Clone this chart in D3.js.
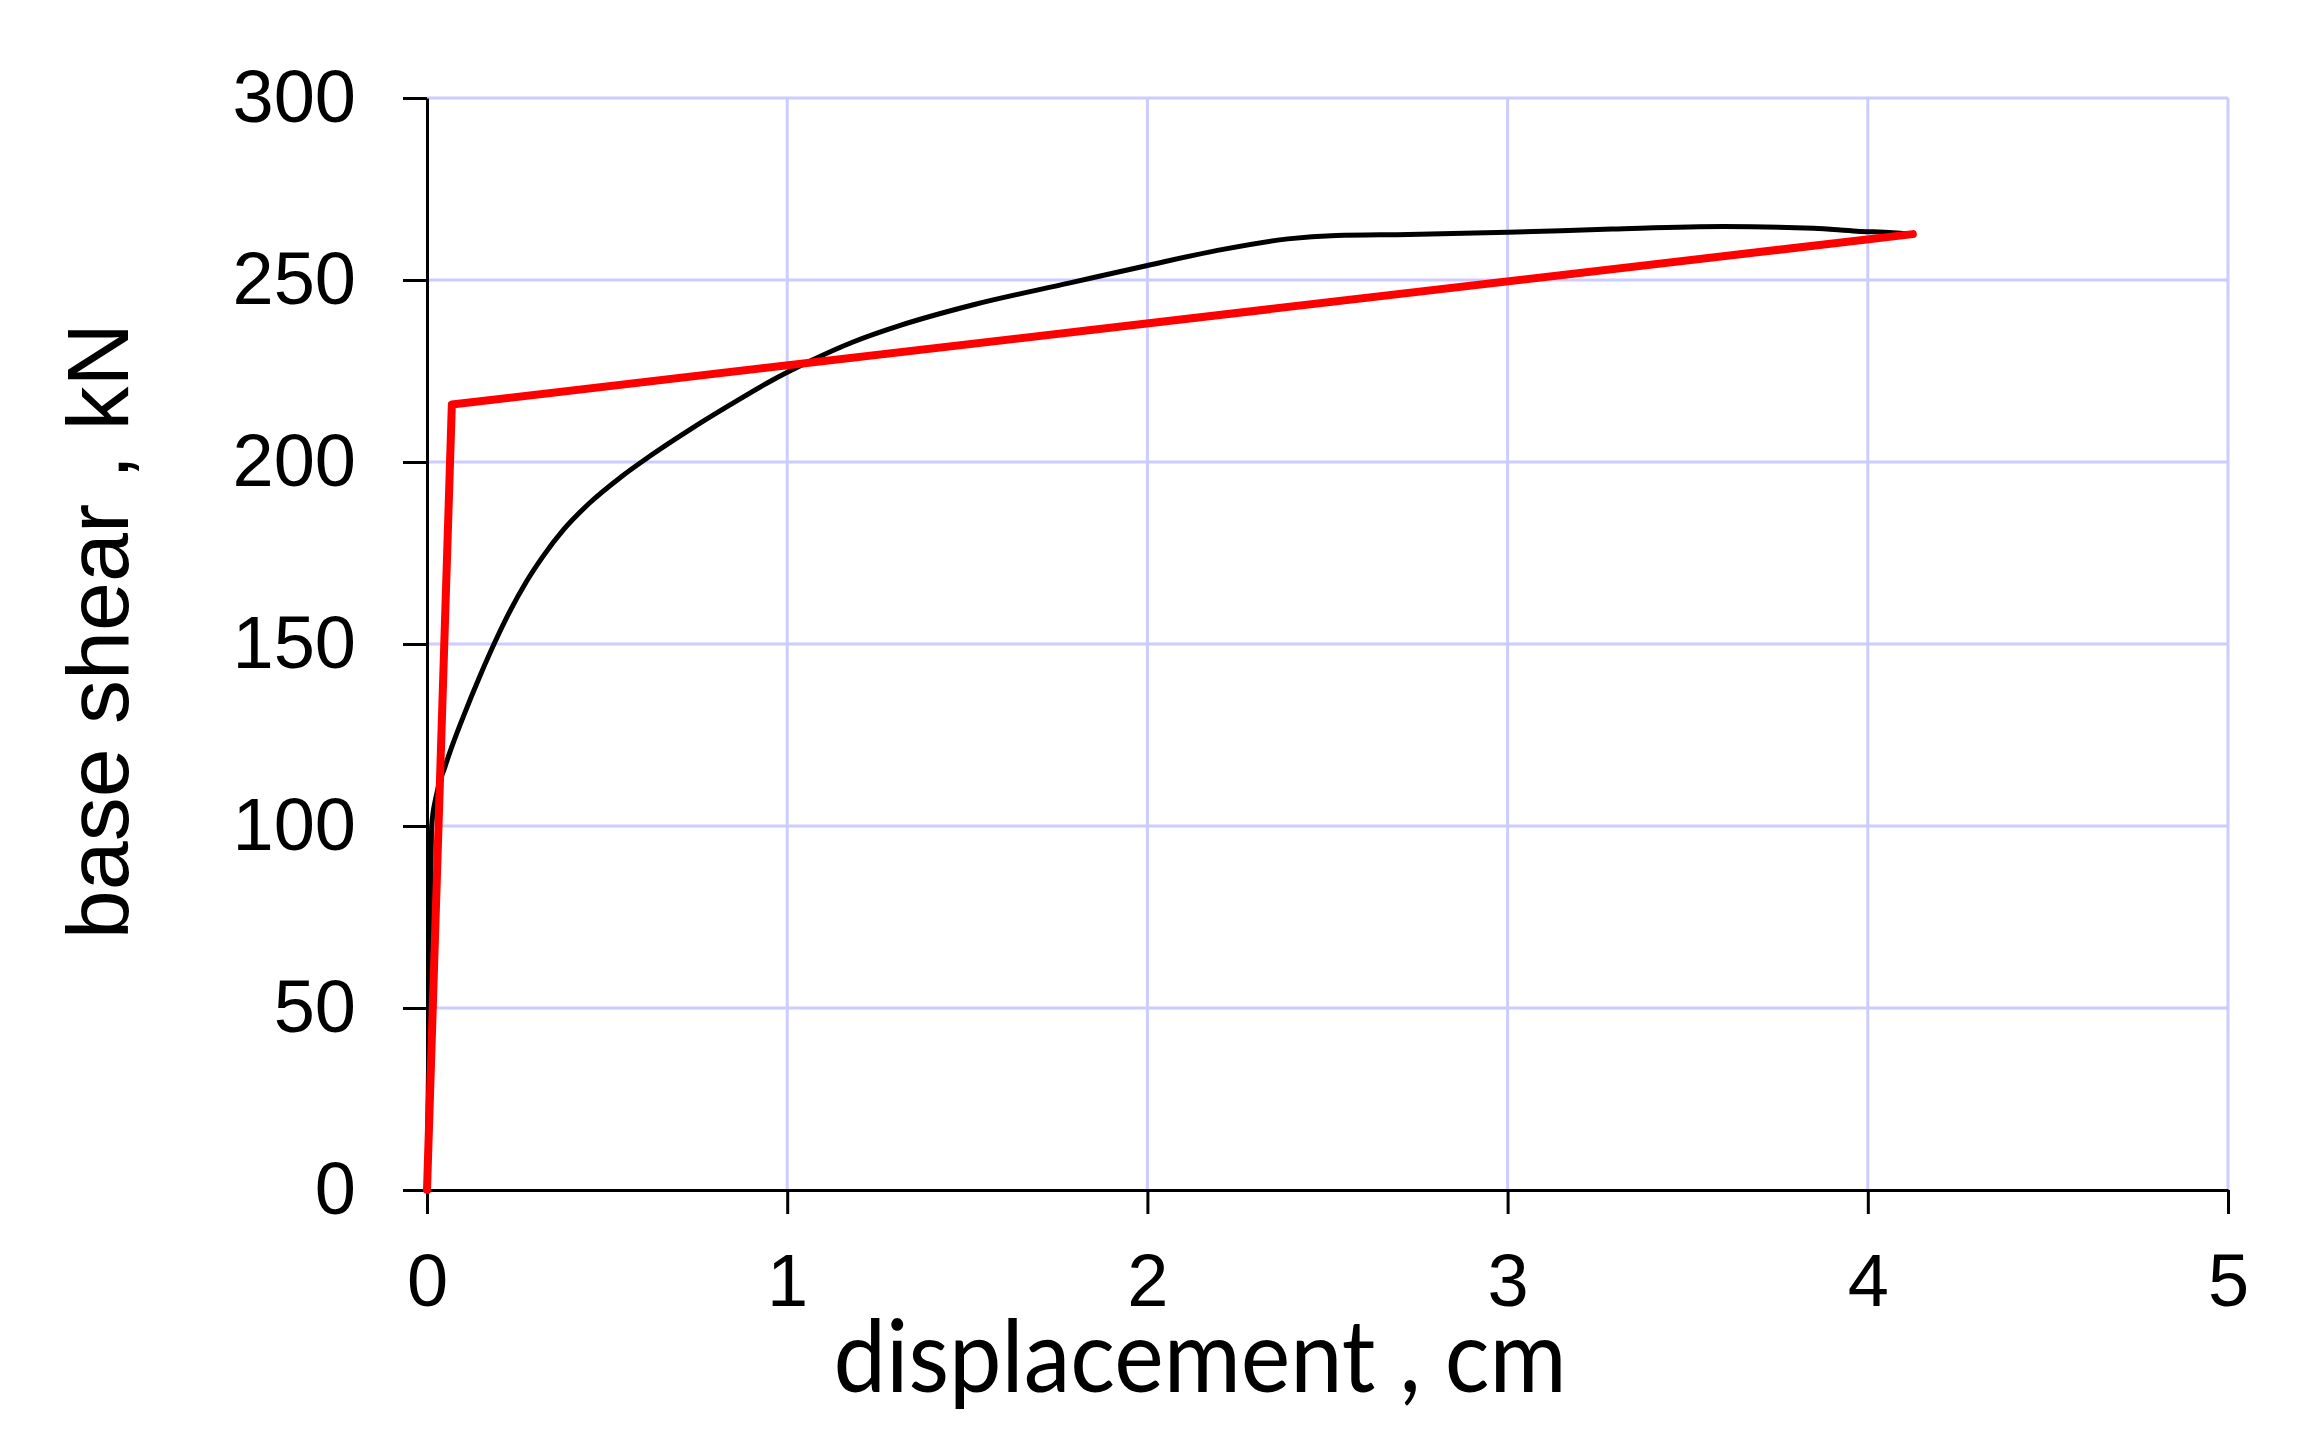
<!DOCTYPE html>
<html>
<head>
<meta charset="utf-8">
<script src="https://cdn.jsdelivr.net/npm/d3@7"></script>
<style>
    html, body { margin: 0; padding: 0; background: #fff; }
    svg { display: block; }
</style>
</head>
<body>
<svg id="chart"></svg>
<script>
// pushover curve
var pushX = [0, 0.005, 0.01, 0.013, 0.025, 0.05, 0.069, 0.105, 0.147, 0.189, 0.226, 0.277, 0.323, 0.379, 0.452, 0.536, 0.62, 0.73, 0.84, 0.961, 1.061, 1.181, 1.316, 1.517, 1.785, 2.0, 2.188, 2.39, 2.524, 2.725, 3.0, 3.29, 3.6, 3.85, 3.97, 4.07, 4.12];
var pushY = [0, 40, 80, 100, 108, 116.3, 121.8, 131.1, 141.2, 150.6, 158.2, 167.3, 174.2, 181.4, 188.8, 195.7, 201.7, 208.9, 215.6, 222.6, 227.6, 232.9, 237.6, 243.2, 249.2, 254.0, 258, 261.3, 262.2, 262.5, 263.1, 264, 264.7, 264.2, 263.4, 263.0, 262.6];

// bilinear idealisation
var biX = [0, 0.069, 4.125];
var biY = [0, 215.8, 262.6];

var xTicks = [0, 1, 2, 3, 4, 5];
var yTicks = [0, 50, 100, 150, 200, 250, 300];

var W = 2307, H = 1437;
var plot = {left: 427, right: 2228, top: 98, bottom: 1190};

var svg = d3.select("#chart")
    .attr("width", W)
    .attr("height", H);

var x = d3.scaleLinear().domain([0, 5]).range([plot.left, plot.right]);
var y = d3.scaleLinear().domain([0, 300]).range([plot.bottom, plot.top]);

// grid
svg.append("g")
    .selectAll("line")
    .data(xTicks.slice(1))
    .enter().append("line")
    .attr("x1", function(d) { return x(d); })
    .attr("x2", function(d) { return x(d); })
    .attr("y1", y(0))
    .attr("y2", y(300))
    .attr("stroke", "#ccccff")
    .attr("stroke-width", 3);

svg.append("g")
    .selectAll("line")
    .data(yTicks.slice(1))
    .enter().append("line")
    .attr("x1", x(0))
    .attr("x2", x(5))
    .attr("y1", function(d) { return y(d); })
    .attr("y2", function(d) { return y(d); })
    .attr("stroke", "#ccccff")
    .attr("stroke-width", 3);

// axes
var xAxis = svg.append("g")
    .attr("transform", "translate(0," + plot.bottom + ")")
    .call(d3.axisBottom(x).tickValues(xTicks).tickFormat(d3.format("d"))
        .tickSizeInner(24).tickSizeOuter(0).tickPadding(39));

var yAxis = svg.append("g")
    .attr("transform", "translate(" + plot.left + ",0)")
    .call(d3.axisLeft(y).tickValues(yTicks).tickFormat(d3.format("d"))
        .tickSizeInner(24).tickSizeOuter(0).tickPadding(47));

[xAxis, yAxis].forEach(function(g) {
    g.select(".domain").attr("stroke", "#000").attr("stroke-width", 3);
    g.selectAll(".tick line").attr("stroke", "#000").attr("stroke-width", 3);
    g.selectAll(".tick text")
        .attr("fill", "#000")
        .style("font-family", "Arial, 'Liberation Sans', sans-serif")
        .style("font-size", "74px");
});

// lines
var line = d3.line()
    .x(function(d) { return x(d[0]); })
    .y(function(d) { return y(d[1]); });

svg.append("path")
    .datum(d3.zip(pushX, pushY))
    .attr("fill", "none")
    .attr("stroke", "#000")
    .attr("stroke-width", 5)
    .attr("stroke-linejoin", "round")
    .attr("d", line.curve(d3.curveMonotoneX));

svg.append("path")
    .datum(d3.zip(biX, biY))
    .attr("fill", "none")
    .attr("stroke", "#ff0000")
    .attr("stroke-width", 8)
    .attr("stroke-linejoin", "round")
    .attr("stroke-linecap", "round")
    .attr("d", line.curve(d3.curveLinear));

// titles
svg.append("text")
    .attr("x", 1200)
    .attr("y", 1392)
    .attr("text-anchor", "middle")
    .attr("textLength", 733)
    .attr("lengthAdjust", "spacingAndGlyphs")
    .style("font-family", "Lato, 'Open Sans', sans-serif")
    .style("font-size", "100px")
    .text("displacement , cm");

svg.append("text")
    .attr("transform", "translate(128,631) rotate(-90)")
    .attr("text-anchor", "middle")
    .style("font-family", "Arial, 'Liberation Sans', sans-serif")
    .style("font-size", "88px")
    .text("base shear , kN");
</script>
</body>
</html>
